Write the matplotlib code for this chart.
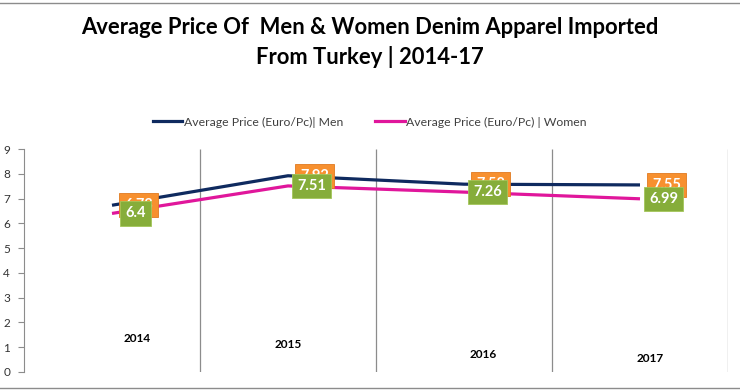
import numpy as np
import matplotlib
matplotlib.use("Agg")
import matplotlib.pyplot as plt
from matplotlib.lines import Line2D

plt.rcParams['font.family'] = ['Lato', 'DejaVu Sans']

# data
years = ["2014", "2015", "2016", "2017"]
men_price = [6.73, 7.92, 7.58, 7.55]
women_price = [6.40, 7.51, 7.26, 6.99]
men_labels = ["6.73", "7.92", "7.58", "7.55"]
women_labels = ["6.4", "7.51", "7.26", "6.99"]

# where the year names sit inside the plot (they are staggered in the original)
year_dx = [0.14, 0.0, 0.11, 0.06]
year_y = [1.37, 1.09, 0.69, 0.56]

navy = "#0f2a5f"
magenta = "#e0169b"
green = "#86ad3a"
orange = "#f7902f"

fig = plt.figure(figsize=(7.4, 3.91), dpi=100)
ax = fig.add_axes([24 / 740, 1 - 372 / 391, 704 / 740, 223 / 391])

x = np.arange(len(years))
ax.plot(x, men_price, color=navy, lw=2.3, solid_capstyle='butt', zorder=3)
ax.plot(x, women_price, color=magenta, lw=2.3, solid_capstyle='butt', zorder=3)

# data labels, men (orange) under women (green)
for xi, v, t in zip(x, men_price, men_labels):
    ax.annotate(t, (xi, v), xytext=(19, 0), textcoords='offset points',
                ha='center', va='center', color='white', fontsize=10.5,
                fontweight='bold', zorder=4,
                bbox=dict(boxstyle='square,pad=0.35', fc=orange, ec='#e07a20', lw=0.6))
for xi, v, t in zip(x, women_price, women_labels):
    ax.annotate(t, (xi, v), xytext=(17, 0), textcoords='offset points',
                ha='center', va='center', color='white', fontsize=10.5,
                fontweight='bold', zorder=5,
                bbox=dict(boxstyle='square,pad=0.35', fc=green, ec='#a3c65a', lw=0.6))

for i, yr in enumerate(years):
    ax.text(x[i] + year_dx[i], year_y[i], yr, ha='center', va='center',
            fontsize=8.5, fontweight='bold', color='black')

ax.set_xlim(-0.5, 3.5)
ax.set_ylim(0, 9)
ax.set_yticks(range(10))
ax.set_xticks([])
ax.vlines(x + 0.5, 0, 9, color='#8c8c8c', lw=0.9, zorder=1)
for s in ['top', 'right', 'bottom']:
    ax.spines[s].set_visible(False)
ax.spines['left'].set_color('#8c8c8c')
ax.tick_params(axis='y', length=4, color='#8c8c8c', labelsize=8.5,
               labelcolor='#333333', pad=6)

fig.text(0.5, 1 - 42.5 / 391, "Average Price Of  Men & Women Denim Apparel Imported\nFrom Turkey | 2014-17",
         ha='center', va='center', fontsize=15.8, fontweight='bold', linespacing=1.45)

handles = [Line2D([0], [0], color=navy, lw=2.3),
           Line2D([0], [0], color=magenta, lw=2.3)]
fig.legend(handles, ["Average Price (Euro/Pc)| Men", "Average Price (Euro/Pc) | Women"],
           loc='center', bbox_to_anchor=(0.5, 1 - 122 / 391), ncol=2, frameon=False,
           fontsize=8.8, handlelength=2.4, handletextpad=0.15, columnspacing=2.6,
           labelcolor='#404040')

# chart border lines
fig.add_artist(Line2D([0, 1], [1 - 2.5 / 391] * 2, color='#8c8c8c', lw=1))
fig.add_artist(Line2D([0, 1], [1 - 388 / 391] * 2, color='#8c8c8c', lw=1))

fig.savefig("out.png", dpi=100)
